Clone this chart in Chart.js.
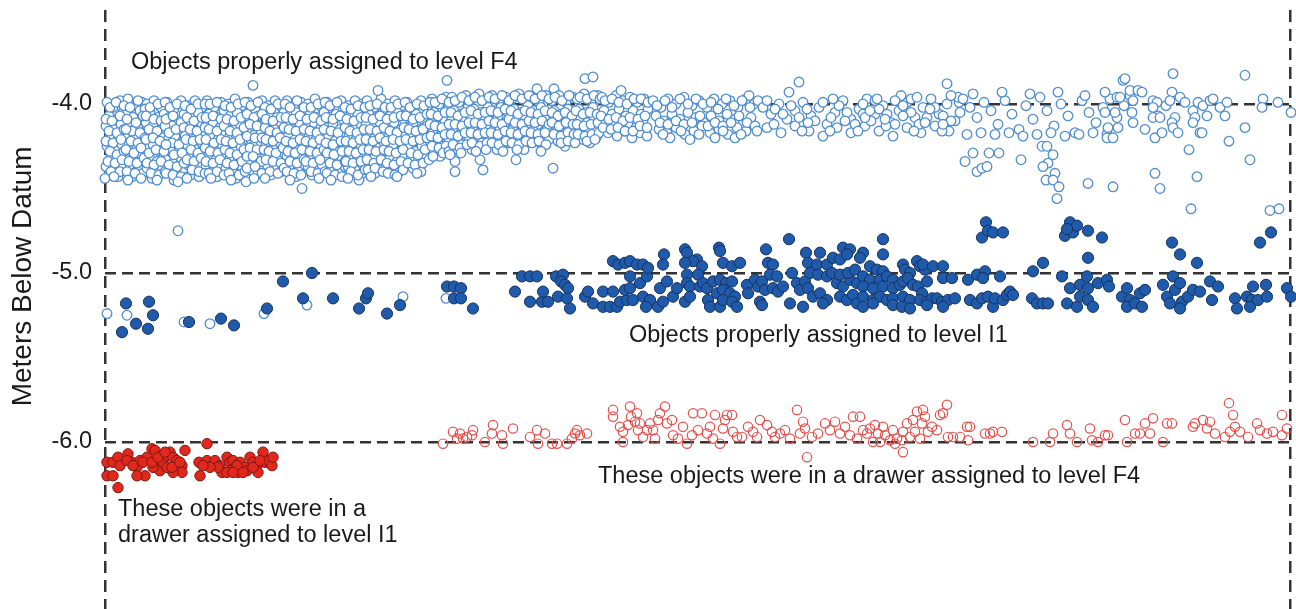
<!DOCTYPE html>
<html>
<head>
<meta charset="utf-8">
<script src="https://cdn.jsdelivr.net/npm/chart.js@4.4.0/dist/chart.umd.min.js"></script>
<style>
  html, body { margin: 0; padding: 0; background: #ffffff; }
  #wrap { width: 1296px; height: 609px; }
</style>
</head>
<body>
<div id="wrap"><canvas id="depthChart" width="1296" height="609"></canvas></div>
<script>
// Depth ticks (metres below datum)
const depthTicks = [-6.0, -5.0, -4.0];

// Objects properly assigned to level F4 (open blue): [catalogue position, depth]
const assignedF4 = [
  [2,-3.99],[8,-4.02],[15,-3.98],[4,-4.07],[12,-4.09],[18,-4.05],[1,-4.13],[9,-4.15],[16,-4.12],[5,-4.19],[13,-4.21],[19,-4.18],[2,-4.25],[10,-4.27],[17,-4.24],[6,-4.31],[14,-4.33],[1,-4.37],[9,-4.39],[18,-4.36],[4,-4.42],[13,-4.43],
  [23,-3.97],[30,-4.01],[37,-3.99],[21,-4.06],[28,-4.08],[35,-4.04],[25,-4.12],[33,-4.14],[39,-4.10],[22,-4.18],[29,-4.20],[36,-4.17],[24,-4.24],[32,-4.26],[39,-4.23],[21,-4.30],[28,-4.32],[35,-4.29],[25,-4.36],[33,-4.38],[38,-4.41],[27,-4.43],
  [42,-4.00],[49,-3.98],[56,-4.02],[45,-4.05],[53,-4.08],[59,-4.06],[41,-4.11],[48,-4.13],[57,-4.15],[44,-4.19],[51,-4.21],[58,-4.18],[41,-4.26],[48,-4.24],[55,-4.28],[45,-4.32],[52,-4.34],[59,-4.31],[42,-4.38],[50,-4.40],[57,-4.37],[47,-4.44],
  [62,-3.99],[69,-4.03],[76,-3.98],[64,-4.08],[72,-4.10],[79,-4.06],[61,-4.15],[67,-4.13],[75,-4.16],[63,-4.21],[70,-4.19],[78,-4.22],[65,-4.27],[73,-4.29],[80,-4.26],[61,-4.33],[68,-4.35],[76,-4.32],[64,-4.39],[72,-4.41],[79,-4.38],[69,-4.45],
  [83,-4.01],[90,-3.98],[97,-4.02],[85,-4.07],[93,-4.05],[81,-4.12],[88,-4.14],[96,-4.11],[84,-4.18],[91,-4.20],[99,-4.17],[82,-4.24],[89,-4.26],[97,-4.23],[85,-4.30],[92,-4.32],[99,-4.29],[83,-4.36],[90,-4.38],[97,-4.35],[86,-4.42],[94,-4.43],
  [102,-3.98],[109,-4.02],[116,-3.99],[104,-4.06],[112,-4.08],[119,-4.04],[101,-4.13],[108,-4.11],[115,-4.14],[105,-4.19],[113,-4.21],[120,-4.18],[102,-4.25],[110,-4.27],[117,-4.24],[104,-4.31],[111,-4.33],[119,-4.30],[101,-4.37],[108,-4.39],[116,-4.36],[112,-4.43],
  [123,-4.00],[130,-3.97],[137,-4.01],[125,-4.07],[132,-4.05],[139,-4.08],[121,-4.13],[128,-4.15],[135,-4.12],[124,-4.20],[131,-4.18],[138,-4.21],[122,-4.26],[129,-4.28],[136,-4.25],[125,-4.32],[133,-4.34],[140,-4.31],[121,-4.38],[128,-4.40],[137,-4.37],[131,-4.44],[141,-4.46],
  [143,-3.99],[150,-4.03],[157,-3.98],[145,-4.09],[153,-4.07],[160,-4.10],[142,-4.15],[149,-4.13],[156,-4.16],[146,-4.21],[154,-4.23],[141,-4.27],[148,-4.25],[155,-4.29],[144,-4.33],[152,-4.35],[159,-4.32],[146,-4.39],[153,-4.41],[158,-4.37],[148,-3.89],
  [163,-4.01],[170,-3.98],[177,-4.02],[165,-4.06],[172,-4.08],[179,-4.05],[162,-4.12],[169,-4.14],[176,-4.11],[164,-4.18],[171,-4.20],[178,-4.17],[161,-4.24],[168,-4.26],[175,-4.23],[165,-4.30],[172,-4.32],[179,-4.29],[162,-4.36],[169,-4.38],[176,-4.40],[166,-4.42],
  [182,-3.98],[189,-4.01],[196,-3.99],[184,-4.07],[191,-4.05],[198,-4.09],[181,-4.13],[188,-4.15],[195,-4.12],[183,-4.19],[190,-4.21],[197,-4.18],[185,-4.25],[192,-4.27],[199,-4.24],[182,-4.31],[189,-4.33],[196,-4.30],[186,-4.37],[193,-4.39],[200,-4.36],[191,-4.43],[197,-4.50],
  [203,-4.00],[210,-3.97],[217,-4.02],[205,-4.06],[212,-4.08],[219,-4.05],[202,-4.13],[209,-4.11],[216,-4.14],[204,-4.19],[211,-4.21],[218,-4.18],[201,-4.25],[208,-4.27],[215,-4.24],[205,-4.31],[212,-4.33],[219,-4.30],[203,-4.37],[210,-4.39],[217,-4.36],[207,-4.42],
  [222,-3.99],[229,-4.02],[236,-3.98],[224,-4.08],[231,-4.06],[238,-4.09],[221,-4.14],[228,-4.12],[235,-4.15],[223,-4.20],[230,-4.22],[237,-4.19],[225,-4.26],[232,-4.28],[239,-4.25],[222,-4.32],[229,-4.34],[236,-4.31],[226,-4.38],[233,-4.40],[240,-4.37],
  [243,-4.01],[250,-3.98],[257,-4.00],[245,-4.07],[252,-4.05],[259,-4.08],[242,-4.13],[249,-4.15],[256,-4.12],[244,-4.19],[251,-4.21],[258,-4.18],[241,-4.25],[248,-4.27],[255,-4.24],[245,-4.31],[252,-4.33],[259,-4.30],[243,-4.37],[250,-4.39],[257,-4.41],[254,-4.45],
  [262,-3.98],[269,-4.02],[276,-3.97],[264,-4.06],[271,-4.08],[278,-4.05],[261,-4.12],[268,-4.14],[275,-4.11],[263,-4.18],[270,-4.20],[277,-4.17],[265,-4.24],[272,-4.26],[279,-4.23],[262,-4.30],[269,-4.32],[276,-4.29],[266,-4.36],[273,-4.38],[280,-4.35],[270,-4.41],[273,-3.92],
  [283,-4.00],[290,-3.98],[297,-4.01],[285,-4.07],[292,-4.05],[299,-4.09],[282,-4.13],[289,-4.11],[296,-4.15],[284,-4.19],[291,-4.21],[298,-4.18],[281,-4.26],[288,-4.24],[295,-4.28],[285,-4.32],[292,-4.34],[299,-4.31],[287,-4.38],[294,-4.40],
  [302,-3.99],[309,-4.02],[316,-3.98],[323,-4.01],[304,-4.08],[311,-4.06],[318,-4.09],[301,-4.14],[308,-4.12],[315,-4.15],[322,-4.13],[305,-4.20],[312,-4.22],[319,-4.19],[303,-4.26],[310,-4.28],[317,-4.25],[324,-4.27],[306,-4.32],[313,-4.34],[320,-4.31],[308,-4.38],[316,-4.40],
  [327,-3.97],[334,-4.00],[341,-3.96],[329,-4.05],[336,-4.07],[343,-4.03],[326,-4.11],[333,-4.13],[340,-4.10],[328,-4.17],[335,-4.19],[342,-4.16],[330,-4.23],[337,-4.25],[344,-4.22],[332,-4.29],[335,-4.31],[342,-3.86],
  [347,-3.96],[354,-3.99],[361,-3.95],[349,-4.04],[356,-4.06],[363,-4.02],[346,-4.10],[353,-4.12],[360,-4.09],[348,-4.16],[355,-4.18],[362,-4.15],[350,-4.22],[357,-4.24],[364,-4.21],[347,-4.28],[350,-4.34],[350,-4.40],
  [367,-3.97],[374,-3.94],[381,-3.98],[369,-4.03],[376,-4.05],[383,-4.02],[366,-4.09],[373,-4.11],[380,-4.08],[368,-4.15],[375,-4.17],[382,-4.14],[370,-4.21],[377,-4.23],[384,-4.20],[367,-4.27],[375,-4.33],[378,-4.39],
  [387,-3.95],[394,-3.98],[401,-3.96],[389,-4.04],[396,-4.02],[403,-4.05],[386,-4.10],[393,-4.08],[400,-4.11],[388,-4.16],[395,-4.14],[402,-4.17],[390,-4.22],[397,-4.20],[404,-4.23],[392,-4.27],
  [407,-3.97],[414,-3.94],[421,-3.98],[409,-4.03],[416,-4.05],[423,-4.01],[406,-4.09],[413,-4.11],[420,-4.08],[408,-4.15],[415,-4.17],[422,-4.14],[410,-4.21],[417,-4.23],[424,-4.20],[411,-4.33],[419,-4.27],
  [427,-3.96],[434,-3.99],[441,-3.95],[429,-4.04],[436,-4.02],[443,-4.06],[426,-4.10],[433,-4.12],[440,-4.09],[428,-4.16],[435,-4.18],[442,-4.15],[430,-4.22],[437,-4.24],[444,-4.21],[432,-3.91],[448,-4.38],[449,-3.91],
  [447,-3.98],[454,-3.95],[461,-3.99],[468,-3.96],[449,-4.04],[456,-4.06],[463,-4.03],[450,-4.10],[457,-4.12],[464,-4.09],[452,-4.16],[459,-4.18],[466,-4.15],[453,-4.22],[460,-4.25],[467,-4.21],[480,-3.85],[488,-3.84],
  [472,-3.97],[479,-3.94],[486,-3.98],[493,-3.95],[474,-4.03],[481,-4.05],[488,-4.02],[475,-4.09],[482,-4.11],[489,-4.08],[477,-4.15],[484,-4.17],[491,-4.14],[478,-4.21],[485,-4.23],[492,-4.19],
  [5,-4.02],[11,-3.99],[19,-4.01],[1,-4.09],[7,-4.10],[15,-4.07],[4,-4.16],[12,-4.17],[19,-4.15],[1,-4.22],[8,-4.23],[16,-4.21],[5,-4.28],[12,-4.30],[19,-4.28],[3,-4.34],[10,-4.35],[17,-4.33],[6,-4.40],[15,-4.40],[0,-4.44],[9,-4.43],
  [25,-4.02],[33,-3.98],[40,-4.03],[22,-4.09],[31,-4.11],[38,-4.07],[27,-4.16],[35,-4.17],[21,-4.15],[26,-4.22],[33,-4.23],[40,-4.20],[21,-4.27],[29,-4.29],[36,-4.26],[24,-4.34],[32,-4.35],[39,-4.32],[22,-4.40],[30,-4.41],[36,-4.44],[23,-4.45],
  [45,-4.02],[53,-4.00],[60,-3.99],[41,-4.07],[49,-4.09],[56,-4.10],[44,-4.15],[52,-4.16],[60,-4.13],[41,-4.21],[48,-4.20],[55,-4.22],[44,-4.29],[51,-4.27],[59,-4.28],[42,-4.35],[49,-4.36],[56,-4.34],[46,-4.41],[54,-4.42],[60,-4.40],[52,-4.45],
  [65,-4.02],[72,-4.00],[80,-4.01],[61,-4.09],[68,-4.07],[76,-4.11],[64,-4.17],[71,-4.15],[79,-4.14],[67,-4.23],[74,-4.24],[61,-4.24],[69,-4.30],[77,-4.29],[64,-4.36],[72,-4.37],[79,-4.35],[61,-4.41],[68,-4.42],[76,-4.43],[73,-4.46],[80,-4.19],
  [86,-4.03],[93,-4.00],[100,-4.00],[82,-4.08],[89,-4.10],[97,-4.08],[85,-4.15],[92,-4.16],[100,-4.14],[81,-4.21],[88,-4.22],[95,-4.21],[86,-4.27],[93,-4.29],[100,-4.26],[82,-4.33],[89,-4.34],[96,-4.32],[87,-4.39],[94,-4.40],[100,-4.41],[82,-4.44],
  [105,-4.00],[112,-3.99],[120,-4.01],[101,-4.08],[108,-4.07],[116,-4.09],[104,-4.15],[112,-4.16],[119,-4.13],[101,-4.21],[109,-4.23],[116,-4.21],[105,-4.28],[113,-4.29],[120,-4.27],[101,-4.34],[108,-4.35],[115,-4.33],[104,-4.41],[112,-4.40],[119,-4.42],[106,-4.44],
  [126,-4.02],[133,-4.00],[140,-3.99],[122,-4.09],[129,-4.10],[136,-4.08],[125,-4.16],[132,-4.17],[139,-4.14],[121,-4.22],[128,-4.23],[135,-4.21],[125,-4.29],[132,-4.30],[139,-4.27],[122,-4.35],[129,-4.36],[137,-4.34],[124,-4.41],[134,-4.42],[140,-4.40],[126,-4.45],
  [146,-4.01],[153,-3.99],[160,-4.02],[142,-4.06],[149,-4.08],[157,-4.06],[145,-4.12],[152,-4.13],[160,-4.14],[142,-4.19],[150,-4.20],[157,-4.20],[145,-4.26],[152,-4.27],[159,-4.27],[142,-4.31],[148,-4.31],[156,-4.34],[142,-4.38],[150,-4.37],[157,-4.41],[149,-4.44],
  [166,-4.03],[173,-4.00],[180,-4.00],[161,-4.09],[168,-4.10],[176,-4.08],[165,-4.16],[172,-4.17],[179,-4.14],[161,-4.21],[168,-4.22],[175,-4.20],[164,-4.28],[171,-4.29],[178,-4.26],[161,-4.33],[168,-4.34],[176,-4.35],[165,-4.40],[173,-4.41],[179,-4.38],[160,-4.44],
  [185,-4.02],[192,-3.98],[199,-4.02],[181,-4.08],[188,-4.09],[195,-4.07],[184,-4.15],[191,-4.16],[199,-4.15],[181,-4.22],[188,-4.23],[195,-4.21],[183,-4.28],[190,-4.29],[197,-4.27],[185,-4.34],[192,-4.35],[199,-4.33],[182,-4.40],[189,-4.41],[196,-4.42],[185,-4.45],
  [206,-4.02],[213,-4.00],[220,-3.99],[202,-4.09],[209,-4.08],[216,-4.10],[205,-4.16],[212,-4.17],[219,-4.15],[201,-4.22],[208,-4.23],[215,-4.21],[205,-4.28],[212,-4.29],[219,-4.27],[201,-4.34],[208,-4.35],[215,-4.33],[206,-4.40],[213,-4.41],[220,-4.40],[214,-4.44],
  [225,-4.01],[232,-3.99],[240,-4.02],[221,-4.08],[228,-4.09],[235,-4.07],[226,-4.16],[233,-4.17],[240,-4.14],[221,-4.23],[228,-4.24],[236,-4.22],[222,-4.29],[229,-4.30],[237,-4.28],[225,-4.35],[232,-4.36],[240,-4.34],[222,-4.41],[230,-4.42],[237,-4.43],[226,-4.45],
  [246,-4.03],[253,-4.01],[260,-4.02],[242,-4.09],[249,-4.10],[256,-4.08],[245,-4.16],[252,-4.17],[259,-4.15],[241,-4.22],[248,-4.23],[255,-4.21],[244,-4.28],[251,-4.29],[258,-4.27],[241,-4.34],[248,-4.35],[256,-4.34],[246,-4.40],[253,-4.42],[260,-4.39],[243,-4.44],
  [265,-4.01],[272,-4.00],[280,-4.02],[261,-4.08],[268,-4.09],[275,-4.07],[265,-4.15],[272,-4.16],[279,-4.14],[261,-4.21],[268,-4.22],[275,-4.20],[264,-4.27],[271,-4.28],[279,-4.27],[262,-4.33],[269,-4.35],[276,-4.33],[263,-4.39],[270,-4.38],[278,-4.40],[266,-4.43],
  [286,-4.02],[293,-4.00],[300,-3.99],[282,-4.09],[289,-4.08],[296,-4.07],[285,-4.16],[292,-4.17],[299,-4.14],[281,-4.22],[288,-4.21],[295,-4.22],[284,-4.28],[291,-4.29],[298,-4.27],[282,-4.35],[289,-4.36],[296,-4.34],[283,-4.41],[290,-4.42],[298,-4.39],[292,-4.43],
  [305,-4.02],[312,-4.00],[319,-4.01],[325,-3.99],[301,-4.07],[308,-4.09],[315,-4.08],[322,-4.06],[304,-4.15],[311,-4.16],[318,-4.15],[325,-4.12],[301,-4.21],[308,-4.22],[315,-4.21],[322,-4.20],[306,-4.29],[313,-4.30],[320,-4.27],[303,-4.35],[310,-4.36],[318,-4.35],[324,-4.33],[312,-4.41],
  [330,-3.99],[337,-3.97],[344,-3.99],[326,-4.06],[333,-4.07],[340,-4.05],[330,-4.13],[337,-4.14],[344,-4.12],[326,-4.19],[333,-4.20],[340,-4.18],[327,-4.25],[334,-4.26],[341,-4.25],[328,-4.31],[338,-4.29],[344,-4.28],
  [350,-3.98],[357,-3.96],[364,-3.98],[346,-4.05],[353,-4.07],[360,-4.05],[350,-4.12],[357,-4.13],[364,-4.11],[346,-4.18],[353,-4.19],[360,-4.17],[348,-4.24],[355,-4.26],[362,-4.24],[345,-4.30],[356,-4.29],
  [370,-3.96],[377,-3.98],[384,-3.96],[366,-4.04],[373,-4.06],[380,-4.05],[370,-4.11],[377,-4.12],[384,-4.10],[366,-4.17],[373,-4.18],[380,-4.17],[367,-4.23],[375,-4.25],[382,-4.23],[371,-4.28],[381,-4.27],
  [390,-3.97],[397,-3.95],[404,-3.98],[386,-4.04],[393,-4.05],[400,-4.03],[390,-4.11],[397,-4.12],[404,-4.09],[386,-4.17],[393,-4.18],[400,-4.16],[387,-4.23],[394,-4.24],[401,-4.22],[398,-4.28],
  [410,-3.95],[417,-3.97],[424,-3.95],[406,-4.04],[413,-4.06],[420,-4.04],[410,-4.11],[417,-4.12],[424,-4.10],[406,-4.17],[413,-4.18],[420,-4.16],[407,-4.23],[414,-4.24],[421,-4.22],[412,-4.27],
  [430,-3.97],[437,-3.95],[444,-3.97],[426,-4.05],[433,-4.06],[440,-4.04],[430,-4.11],[437,-4.10],[444,-4.12],[426,-4.17],[433,-4.18],[440,-4.17],[427,-4.23],[434,-4.22],[441,-4.24],[436,-4.28],
  [450,-3.96],[457,-3.98],[464,-3.95],[447,-4.05],[453,-4.07],[460,-4.05],[467,-4.07],[447,-4.11],[454,-4.13],[461,-4.11],[468,-4.12],[449,-4.18],[456,-4.19],[463,-4.17],[469,-4.18],[456,-4.23],[463,-4.22],[470,-4.23],
  [475,-3.96],[482,-3.97],[489,-3.95],[495,-3.97],[471,-4.04],[478,-4.06],[485,-4.05],[492,-4.06],[472,-4.12],[479,-4.13],[486,-4.12],[493,-4.11],[473,-4.18],[480,-4.19],[487,-4.18],[494,-4.17],[482,-4.22],[490,-4.21],
  [497,-3.96],[504,-3.99],[511,-3.95],[518,-3.98],[525,-3.96],[532,-3.99],[539,-3.97],[499,-4.04],[507,-4.06],[514,-4.03],[521,-4.07],[528,-4.04],[536,-4.06],[543,-4.03],
  [501,-4.11],[509,-4.13],[516,-4.10],[523,-4.12],[531,-4.14],[538,-4.10],[503,-4.17],[512,-4.19],[520,-4.16],[527,-4.20],[535,-4.17],[542,-4.19],[516,-3.92],
  [500,-3.98],[507,-3.97],[514,-3.99],[522,-4.00],[529,-3.97],[536,-3.97],[543,-3.99],[496,-4.07],[504,-4.09],[511,-4.08],[518,-4.10],[525,-4.08],[533,-4.09],[540,-4.07],[498,-4.14],[506,-4.15],[513,-4.14],[520,-4.16],[528,-4.16],[535,-4.13],[542,-4.14],
  [548,-3.98],[556,-4.02],[563,-3.97],[571,-4.00],[579,-3.96],[587,-4.01],[594,-3.98],[602,-4.02],[609,-3.97],[617,-4.00],[625,-3.98],[633,-4.02],[641,-3.97],[649,-4.00],
  [551,-4.07],[559,-4.10],[567,-4.06],[575,-4.09],[583,-4.05],[591,-4.08],[599,-4.11],[606,-4.07],[614,-4.10],[622,-4.06],[630,-4.09],[638,-4.12],[646,-4.08],
  [554,-4.15],[562,-4.17],[571,-4.14],[580,-4.18],[589,-4.16],[597,-4.13],[605,-4.17],[614,-4.15],[623,-4.18],[632,-4.14],[641,-4.16],[565,-4.20],[585,-4.21],[610,-4.20],[630,-4.20],[644,-3.95],
  [552,-4.01],[560,-3.98],[567,-4.02],[575,-3.97],[583,-4.00],[591,-3.97],[598,-4.00],[606,-3.99],[613,-4.03],[621,-3.97],[629,-4.01],[637,-3.98],[645,-4.02],[653,-3.98],
  [555,-4.11],[563,-4.12],[571,-4.10],[579,-4.12],[587,-4.11],[595,-4.07],[603,-4.13],[610,-4.11],[618,-4.13],[626,-4.11],[634,-4.07],[642,-4.11],[650,-4.13],[558,-4.18],[576,-4.16],[594,-4.18],[618,-4.16],[636,-4.18],[652,-4.16],
  [658,-4.02],[666,-4.06],[674,-4.00],[682,-4.09],[690,-4.04],[698,-3.99],[706,-4.07],[714,-4.02],[722,-4.12],[730,-4.05],[738,-3.98],[746,-4.09],[754,-4.03],[762,-3.97],[770,-4.06],[778,-4.01],[786,-4.11],[794,-4.04],[802,-3.99],[810,-4.08],[818,-4.02],[826,-3.97],[834,-4.06],[842,-4.00],[850,-4.10],
  [662,-4.14],[676,-4.17],[690,-4.13],[704,-4.16],[718,-4.19],[732,-4.14],[746,-4.17],[760,-4.13],[774,-4.16],[788,-4.19],[802,-4.14],[816,-4.17],[830,-4.13],[844,-4.16],
  [662,-3.98],[670,-4.03],[678,-4.06],[686,-4.01],[694,-4.08],[702,-4.03],[710,-4.10],[718,-3.99],[726,-4.08],[734,-4.01],[742,-4.05],[750,-4.12],[758,-4.06],[766,-4.10],[774,-4.03],[782,-4.06],[790,-4.12],[798,-4.01],[806,-4.05],[814,-4.12],[822,-4.08],[830,-4.02],[838,-4.07],[846,-4.10],[854,-3.99],
  [669,-4.12],[697,-4.16],[725,-4.16],[753,-4.16],[781,-4.13],[809,-4.16],[837,-4.16],[770,-3.98],[806,-3.97],[728,-3.97],
  [684,-3.93],[694,-3.87],[703,-4.11],[740,-4.10],[780,-4.09],[820,-4.11],[760,-4.08],[796,-3.95],[853,-3.96],
  [758,-4.00],[765,-4.04],[772,-3.97],[790,-3.98],[798,-4.07],[812,-3.96],[825,-4.03],[838,-4.12],[846,-3.95],[855,-4.05],[842,-3.88],
  [858,-3.97],[865,-4.02],[872,-4.08],[879,-3.99],[886,-4.04],[893,-4.12],[900,-3.98],[907,-4.06],[914,-4.15],[921,-4.01],[928,-4.09],[935,-3.96],[942,-4.04],[949,-4.13],[956,-4.00],[963,-4.07],[970,-4.17],[977,-3.98],[984,-4.05],[991,-4.11],[998,-4.02],[1005,-3.97],[1012,-4.08],[1019,-4.01],[1025,-3.95],
  [862,-4.18],[876,-4.17],[890,-4.18],[904,-4.17],[918,-4.19],[932,-4.18],[946,-4.17],[960,-4.19],[974,-4.18],[988,-4.17],[1002,-4.18],
  [868,-3.94],[897,-3.93],[925,-3.94],[953,-3.93],[980,-3.95],[1000,-3.93],
  [860,-4.34],[868,-4.29],[872,-4.40],[877,-4.38],[882,-4.37],[884,-4.29],[894,-4.29],[916,-4.33],[937,-4.25],[942,-4.25],[948,-4.30],[943,-4.35],[938,-4.37],[941,-4.45],[950,-4.41],[948,-4.45],[954,-4.49],[952,-4.56],
  [983,-4.47],[1008,-4.49],[1050,-4.41],[1055,-4.50],[1084,-4.27],[1092,-4.43],[1086,-4.62],[1124,-4.22],[1140,-4.14],[1145,-4.33],[1165,-4.63],[1174,-4.62],
  [1068,-3.82],[1140,-3.83],[1018,-3.86],[1020,-3.85],[1186,-4.05],[1173,-3.99],[1158,-3.97],[1157,-4.02],
  [1025,-3.92],[1033,-3.92],[1037,-3.93],[1028,-3.98],[1027,-4.05],[1028,-4.11],[1040,-4.15],[1048,-3.98],[1052,-3.99],[1048,-4.02],[1053,-4.07],[1048,-4.08],[1055,-4.08],[1050,-4.20],[1057,-4.17],
  [1061,-4.01],[1067,-3.93],[1065,-3.98],[1070,-4.08],[1067,-4.11],[1068,-4.14],[1073,-4.17],[1075,-3.96],[1080,-3.99],[1088,-4.04],[1090,-4.08],[1088,-4.11],[1093,-3.99],[1098,-4.01],[1105,-3.98],[1108,-3.97],
  [1102,-4.07],[1095,-4.17],[1097,-4.17],[1115,-4.02],[1120,-4.07],[1122,-3.99],[1012,-3.96],[1015,-3.96],[1000,-4.05],[1010,-4.05],[1003,-4.14],[1013,-4.14],[1002,-4.20],[1008,-4.20],
  [73,-4.75],[2,-5.24],[22,-5.25],[79,-5.29],[105,-5.30],[159,-5.24],[202,-5.19],[298,-5.14],[341,-5.15]
];

// Objects properly assigned to level I1 (filled blue)
const assignedI1 = [
  [17,-5.35],[21,-5.18],[31,-5.30],[43,-5.33],[44,-5.17],[48,-5.25],[84,-5.29],[116,-5.27],[129,-5.31],[162,-5.21],[178,-5.05],[207,-5.00],[198,-5.15],[228,-5.15],[254,-5.21],[261,-5.15],[263,-5.12],[282,-5.24],[295,-5.19],
  [342,-5.08],[349,-5.08],[356,-5.09],[349,-5.15],[356,-5.15],[368,-5.21],[410,-5.11],[417,-5.02],[425,-5.02],[432,-5.02],[425,-5.17],[437,-5.17],[443,-5.17],[438,-5.11],
  [451,-5.02],[458,-5.01],[456,-5.05],[460,-5.07],[463,-5.09],[453,-5.14],[462,-5.15],[465,-5.21],[480,-5.14],[483,-5.11],[488,-5.18],[498,-5.11],[508,-5.11],[498,-5.20],[505,-5.20],[512,-5.20],
  [508,-4.93],[513,-4.95],[520,-4.94],[525,-4.93],[532,-4.95],[538,-4.95],[525,-5.02],[515,-5.17],[522,-5.16],[528,-5.16],[520,-5.10],[525,-5.09],[535,-5.06],[542,-5.02],[538,-5.14],[545,-5.16],[541,-5.20],[543,-4.97],
  [553,-5.20],[558,-5.17],[555,-5.09],[562,-5.05],[559,-4.89],[558,-4.95],[568,-5.14],[572,-5.09],[580,-4.86],[582,-4.88],[592,-4.92],[588,-4.93],[597,-4.96],[580,-4.94],[582,-5.01],[582,-5.06],[585,-5.08],[580,-5.17],[585,-5.14],
  [593,-5.01],[595,-5.08],[598,-5.06],[602,-5.09],[603,-5.16],[605,-5.20],[615,-5.20],[614,-4.85],[615,-4.87],[618,-4.94],[627,-4.96],[635,-4.94],[608,-5.05],[615,-5.04],[621,-5.06],[627,-5.05],[612,-5.12],[618,-5.10],[625,-5.12],[630,-5.14],[618,-5.16],[627,-5.17],[632,-5.20],
  [642,-5.07],[643,-5.12],[650,-5.04],[653,-5.08],[657,-5.05],[660,-5.10],[655,-5.17],[657,-5.19],[661,-4.86],[663,-4.94],[668,-4.95],[665,-5.01],[672,-5.02],[668,-5.09],[673,-5.11],[678,-5.08],
  [684,-4.80],[687,-5.00],[685,-5.18],[698,-5.20],[692,-5.06],[695,-5.10],[700,-5.05],[703,-5.09],[701,-4.88],[715,-4.88],[703,-4.94],[712,-4.95],[722,-4.95],[705,-5.00],[713,-5.01],[722,-5.02],[727,-5.00],[708,-5.14],[715,-5.12],[722,-5.16],[718,-5.18],
  [728,-4.91],[735,-4.92],[738,-4.85],[745,-4.86],[742,-4.89],[732,-5.06],[738,-5.08],[745,-5.04],[752,-5.06],[735,-5.14],[742,-5.16],[748,-5.13],[752,-5.18],[735,-5.01],[743,-5.00],[750,-4.98],
  [758,-4.88],[755,-4.91],[778,-4.80],[778,-4.89],[765,-4.96],[772,-4.98],[778,-4.99],[758,-5.02],[765,-5.04],[775,-5.04],[782,-5.02],[788,-5.04],[758,-5.08],[768,-5.09],[778,-5.08],[788,-5.09],[795,-5.07],
  [758,-5.14],[768,-5.16],[775,-5.14],[782,-5.16],[788,-5.15],[758,-5.20],[768,-5.18],[788,-5.19],[798,-4.95],[800,-4.98],[805,-5.00],[798,-5.05],[803,-5.03],[808,-5.07],[798,-5.14],[805,-5.16],[797,-5.20],[805,-5.21],
  [812,-4.93],[815,-4.96],[820,-4.98],[818,-4.95],[813,-5.08],[817,-5.12],[822,-5.05],[815,-5.16],[822,-5.17],[827,-5.15],[828,-4.96],[838,-4.96],[838,-5.03],[847,-5.03],[832,-5.15],[837,-5.17],[843,-5.16],[850,-5.15],[822,-5.19],[838,-5.20],
  [863,-5.04],[872,-5.01],[880,-4.99],[878,-5.03],[865,-5.16],[872,-5.18],[877,-5.15],[883,-5.14],[888,-5.20],[890,-5.15],[898,-5.16],[902,-5.13],[905,-5.11],[908,-5.13],[895,-5.02],
  [877,-4.79],[881,-4.70],[883,-4.75],[888,-4.76],[898,-4.76],[928,-4.99],[938,-4.94],[927,-5.15],[932,-5.18],[938,-5.18],[943,-5.18],
  [957,-5.02],[962,-5.18],[972,-5.20],[965,-5.09],[975,-5.07],[975,-5.14],[983,-5.09],[983,-5.16],[982,-5.02],[983,-4.91],[988,-5.20],[993,-5.06],[1002,-5.04],[1004,-5.08],
  [960,-4.78],[965,-4.70],[968,-4.76],[972,-4.72],[962,-4.74],[983,-4.75],[997,-4.79],
  [1017,-5.14],[1022,-5.09],[1025,-5.16],[1022,-5.20],[1030,-5.18],[1035,-5.12],[1040,-5.10],[1037,-5.20],
  [1067,-4.82],[1075,-4.89],[1092,-4.94],[1058,-5.07],[1062,-5.14],[1068,-5.02],[1070,-5.10],[1075,-5.06],[1077,-5.17],[1083,-5.14],[1088,-5.10],[1095,-5.11],[1105,-5.05],[1107,-5.16],[1113,-5.08],[1065,-5.18],[1075,-5.21],
  [1130,-5.15],[1132,-5.21],[1142,-5.14],[1147,-5.16],[1148,-5.08],[1145,-5.20],[1153,-5.16],[1161,-5.07],[1162,-5.14],[1155,-4.82],[1166,-4.76],[1182,-5.09],[1186,-5.14]
];

// Objects found in a drawer assigned to level I1 (filled red)
const drawerI1 = [
  [2,-6.12],[8,-6.12],[13,-6.09],[15,-6.14],[23,-6.07],[27,-6.12],[32,-6.15],[35,-6.11],[42,-6.09],[47,-6.04],[50,-6.05],[52,-6.12],[55,-6.17],[58,-6.12],[62,-6.08],[65,-6.06],[68,-6.09],[72,-6.11],[77,-6.14],[80,-6.05],
  [77,-6.18],[68,-6.18],[62,-6.15],[48,-6.15],[40,-6.20],[32,-6.20],[2,-6.20],[8,-6.20],[13,-6.27],[22,-6.11],[28,-6.14],[38,-6.12],[47,-6.12],[53,-6.09],[60,-6.06],[67,-6.15],[75,-6.12],
  [102,-6.01],[94,-6.12],[95,-6.20],[102,-6.11],[107,-6.14],[110,-6.11],[115,-6.14],[117,-6.18],[122,-6.09],[125,-6.12],[128,-6.11],[130,-6.15],[133,-6.18],[135,-6.12],[140,-6.15],[142,-6.17],[145,-6.09],[148,-6.12],
  [152,-6.14],[153,-6.18],[158,-6.06],[160,-6.12],[163,-6.11],[167,-6.14],[168,-6.09],[132,-6.14],[125,-6.17],[113,-6.15],[105,-6.15],[98,-6.14],[122,-6.18],[128,-6.18],[138,-6.18],[148,-6.15],[155,-6.11]
];

// Objects found in a drawer assigned to level F4 (open red)
const drawerF4 = [
  [338,-6.01],[348,-5.94],[352,-5.98],[355,-5.95],[358,-5.98],[362,-5.97],[367,-5.96],[368,-5.93],[380,-6.00],[387,-5.95],[388,-5.90],[397,-5.96],[398,-6.01],[408,-5.92],
  [425,-5.97],[432,-5.93],[433,-6.01],[440,-5.95],[447,-6.01],[452,-6.01],[462,-6.01],[467,-5.98],[470,-5.95],[472,-5.93],[475,-5.96],[482,-5.95],
  [508,-5.81],[508,-5.85],[515,-5.91],[518,-5.94],[518,-6.00],[523,-5.90],[525,-5.79],[526,-5.85],[530,-5.88],[532,-5.83],[533,-5.93],[535,-5.89],[538,-5.97],[542,-5.93],[545,-5.89],[548,-5.93],[550,-5.98],
  [553,-5.87],[555,-5.83],[560,-5.79],[562,-5.89],[567,-5.87],[568,-5.96],[573,-5.98],[578,-5.91],[582,-6.01],[587,-5.96],[588,-5.83],[597,-5.83],[593,-5.93],[602,-5.95],[605,-5.91],[610,-5.84],[608,-5.98],
  [615,-6.01],[618,-5.92],[622,-5.84],[620,-5.87],[627,-5.84],[628,-5.94],[632,-5.97],[637,-5.97],[643,-5.91],[648,-5.94],[652,-5.97],[655,-5.87],[662,-5.90],[667,-5.94],[670,-5.97],[675,-5.95],[680,-5.93],[685,-5.98],
  [692,-5.81],[695,-5.95],[698,-5.88],[700,-5.92],[702,-6.09],[707,-5.97],[713,-5.95],[720,-5.89],[725,-5.93],[730,-5.88],[735,-5.95],[740,-5.91],[745,-5.96],[748,-5.85],[752,-5.98],
  [755,-5.85],[758,-5.93],[762,-5.95],[765,-5.92],[770,-5.90],[773,-5.95],[778,-5.91],[780,-5.96],[788,-5.93],[792,-5.98],[798,-5.94],[802,-5.89],[805,-5.97],[808,-5.87],[810,-5.94],[812,-5.82],[815,-5.98],[817,-5.89],[818,-5.81],[820,-5.85],
  [823,-5.94],[827,-5.91],[832,-5.93],[835,-5.84],[838,-5.83],[842,-5.78],[843,-5.97],[848,-5.97],[855,-5.97],[862,-5.91],[863,-5.99],[865,-5.91],[880,-5.95],[885,-5.95],[888,-5.94],[897,-5.94],
  [928,-6.00],[945,-6.00],[948,-5.95],[962,-5.90],[965,-5.95],[972,-6.00],[985,-5.92],[987,-5.99],[993,-6.00],[1000,-5.96],[1003,-5.96],[1020,-5.87],[1022,-6.00],[1030,-5.95],[1035,-5.95],[1040,-5.89],[1045,-5.95],[1048,-5.86],
  [1058,-6.00],[1062,-5.89],[1067,-5.89],[1088,-5.91],[1090,-5.89],[1098,-5.87],[1102,-5.92],[1105,-5.88],[1110,-5.95],[1120,-5.97],[1124,-5.77],[1128,-5.84],[1130,-5.91],[1125,-5.94],[1135,-5.94],[1143,-5.97],
  [1152,-5.89],[1155,-5.93],[1162,-5.95],[1168,-5.94],[1177,-5.84],[1182,-5.92],[1177,-5.96],[798,-6.06],[797,-5.99],[790,-6.01],[775,-6.00],[768,-6.00],[785,-5.99]
];

const toPoints = rows => rows.map(([x, y]) => ({ x, y }));

const FONT = "'Liberation Sans', Arial, Helvetica, sans-serif";

// Free-standing captions and the rotated depth title
const captionLayer = {
  id: 'captionLayer',
  afterDatasetsDraw(chart, args, opts) {
    const { ctx, scales: { x, y } } = chart;
    ctx.save();
    ctx.fillStyle = opts.color;
    ctx.font = opts.font;
    ctx.textAlign = 'left';
    ctx.textBaseline = 'alphabetic';
    opts.notes.forEach(n => {
      const px = x.getPixelForValue(n.x);
      const py = y.getPixelForValue(n.y);
      n.lines.forEach((t, i) => ctx.fillText(t, px, py + i * opts.lineGap));
    });
    ctx.translate(opts.titleX, y.getPixelForValue(opts.titleAt));
    ctx.rotate(-Math.PI / 2);
    ctx.textAlign = 'center';
    ctx.font = opts.titleFont;
    ctx.fillText(opts.title, 0, 0);
    ctx.restore();
  }
};

// Keep the plot box flush with the canvas edges (no label overhang padding)
const noOverhang = s => { s.paddingTop = 0; s.paddingBottom = 0; s.paddingLeft = 0; s.paddingRight = 0; };

new Chart(document.getElementById('depthChart'), {
  type: 'scatter',
  data: {
    datasets: [
      {
        label: 'Properly assigned to I1',
        data: toPoints(assignedI1),
        pointRadius: 5.6,
        pointBackgroundColor: '#1f5aab',
        pointBorderColor: '#17335f',
        pointBorderWidth: 1,
        clip: false,
        order: 1
      },
      {
        label: 'In drawer assigned to I1',
        data: toPoints(drawerI1),
        pointRadius: 5.2,
        pointBackgroundColor: '#e2271d',
        pointBorderColor: '#7d1a12',
        pointBorderWidth: 1,
        clip: false,
        order: 2
      },
      {
        label: 'In drawer assigned to F4',
        data: toPoints(drawerF4),
        pointRadius: 4.7,
        pointBackgroundColor: 'rgba(255,255,255,0)',
        pointBorderColor: '#e6504d',
        pointBorderWidth: 1.2,
        clip: false,
        order: 3
      },
      {
        label: 'Properly assigned to F4',
        data: toPoints(assignedF4),
        pointRadius: 4.8,
        pointBackgroundColor: '#ffffff',
        pointBorderColor: '#4f8dd0',
        pointBorderWidth: 1.3,
        clip: false,
        order: 4
      }
    ]
  },
  options: {
    responsive: false,
    animation: false,
    events: [],
    layout: { autoPadding: false, padding: { top: 10, right: 6, bottom: 0, left: 0 } },
    plugins: {
      legend: { display: false },
      tooltip: { enabled: false },
      captionLayer: {
        color: '#1a1a1a',
        font: '23.5px ' + FONT,
        lineGap: 26,
        notes: [
          { x: 26, y: -3.79, lines: ['Objects properly assigned to level F4'] },
          { x: 524, y: -5.41, lines: ['Objects properly assigned to level I1'] },
          { x: 493, y: -6.24, lines: ['These objects were in a drawer assigned to level F4'] },
          { x: 13, y: -6.44, lines: ['These objects were in a', 'drawer assigned to level I1'] }
        ],
        title: 'Meters Below Datum',
        titleFont: '28px ' + FONT,
        titleX: 31,
        titleAt: -5.02
      }
    },
    scales: {
      x: {
        type: 'linear',
        min: 0,
        max: 1185,
        afterBuildTicks: s => { s.ticks = [{ value: 0 }, { value: 1185 }]; },
        afterFit: s => { s.height = 0; noOverhang(s); },
        ticks: { display: false },
        grid: { color: '#333333', lineWidth: 2.5, drawTicks: false },
        border: { display: false, dash: [12, 7] }
      },
      y: {
        type: 'linear',
        min: -6.9882,
        max: -3.4438,
        afterBuildTicks: s => { s.ticks = depthTicks.map(v => ({ value: v })); },
        afterFit: s => { s.width = 105; noOverhang(s); },
        ticks: {
          callback: v => v.toFixed(1),
          padding: 13,
          color: '#1a1a1a',
          font: { family: FONT, size: 23.5 }
        },
        grid: { color: '#333333', lineWidth: 2.5, drawTicks: false },
        border: { display: false, dash: [11, 6] }
      }
    }
  },
  plugins: [captionLayer]
});
</script>
</body>
</html>
